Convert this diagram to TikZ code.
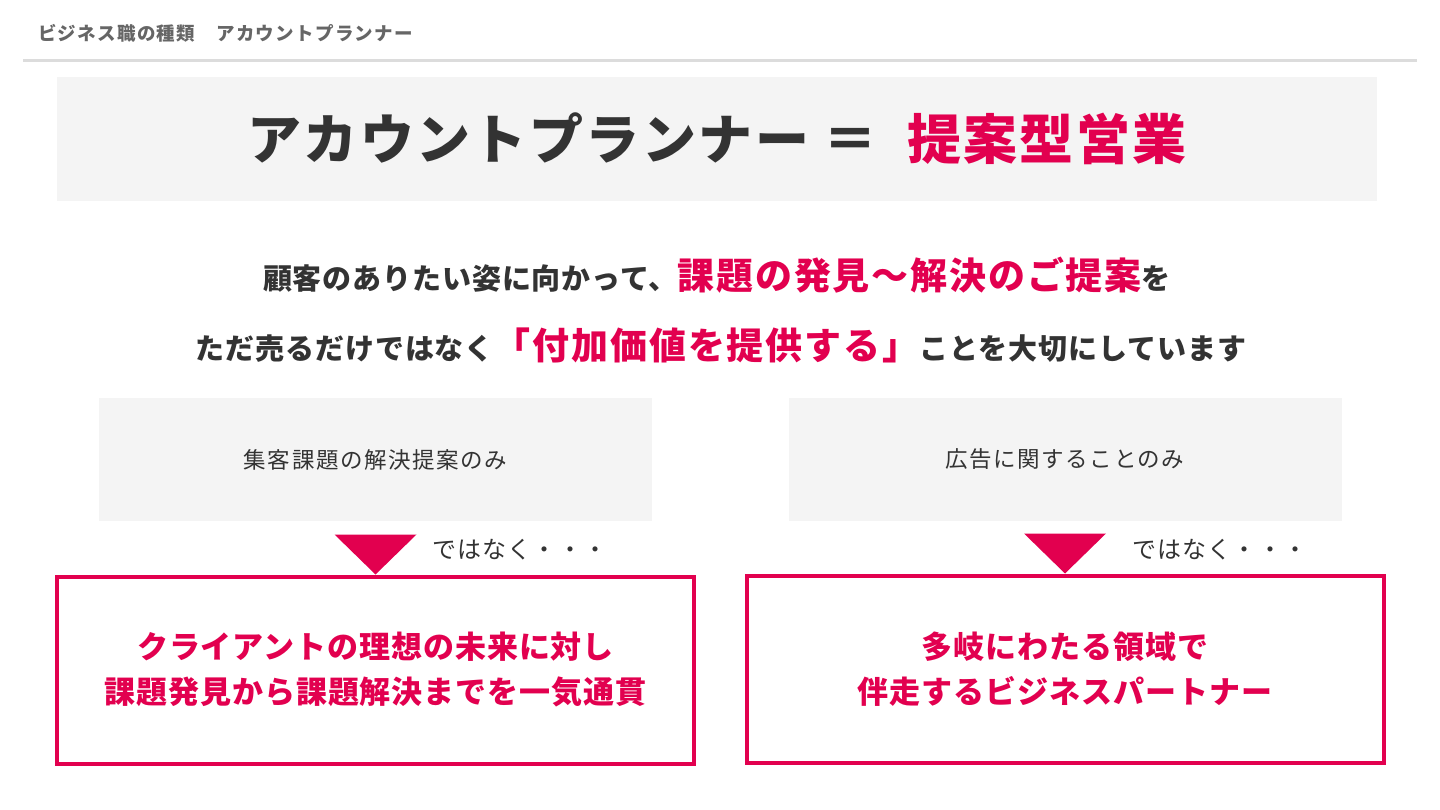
\documentclass[tikz,border=0pt]{standalone}
\usepackage{fontspec}
\setmainfont{Noto Sans CJK JP}
\newfontfamily\heavyfont{Noto Sans CJK JP Black}
\usetikzlibrary{positioning,calc}
\definecolor{accent}{HTML}{E2004F}
\definecolor{ink}{HTML}{333333}
\definecolor{crumbgray}{HTML}{666666}
\definecolor{panelgray}{HTML}{F4F4F4}
\definecolor{rulegray}{HTML}{DCDCDC}
\tikzset{
    panel/.style={
        fill=panelgray,
        draw=none,
        inner sep=0pt,
        minimum width=553pt,
        minimum height=123pt,
        text=ink,
        font=\fontsize{22.5}{26}\selectfont\addfontfeatures{LetterSpace=7},
    },
    goal/.style={
        draw=accent,
        line width=4pt,
        fill=white,
        minimum width=637pt,
        minimum height=187pt,
        align=center,
        text=accent,
        font=\bfseries\fontsize{31}{45}\selectfont\addfontfeatures{LetterSpace=3},
    },
    note/.style={
        inner sep=0pt,
        text=ink,
        font=\fontsize{24}{28}\selectfont\addfontfeatures{LetterSpace=5},
    },
    message/.style={
        inner sep=0pt,
        text=ink,
        font=\bfseries\fontsize{29}{34}\selectfont\addfontfeatures{LetterSpace=3},
    },
}
\newcommand{\keyword}[1]{{\fontsize{37}{40}\selectfont\addfontfeatures{LetterSpace=5}\textcolor{accent}{#1}}}

\begin{document}
\begin{tikzpicture}[x=1pt,y=-1pt]
    \useasboundingbox (0,0) rectangle (1440,810);
    % header
    \node [anchor=west, inner sep=0pt, text=crumbgray, font=\bfseries\fontsize{18.5}{22}\selectfont\addfontfeatures{LetterSpace=7}] (crumb) at (38,33) {ビジネス職の種類　アカウントプランナー};
    \coordinate (rule-l) at (23,61);
    \coordinate (rule-r) at (1417,61);
    \draw [rulegray, line width=3pt] (rule-l) -- (rule-r);
    % title
    \node [fill=panelgray, inner sep=0pt, minimum width=1320pt, minimum height=124pt, text=ink, font=\heavyfont\fontsize{54}{60}\selectfont\addfontfeatures{LetterSpace=4.5}] (title) at (717,139) {アカウントプランナー\hspace{14pt}＝\hspace{30pt}\textcolor{accent}{提案型営業}};
    % message
    \node [message] (msg1) at (717,275) {顧客のありたい姿に向かって、\keyword{課題の発見〜解決のご提案}を};
    \node [message] (msg2) at (721,345) {ただ売るだけではなく\keyword{「付加価値を提供する」}ことを大切にしています};
    % left column
    \node [panel] (onlyL) at (375.5,459.5) {集客課題の解決提案のみ};
    \node [goal] (goalL) at (375.5,670) {クライアントの理想の未来に対し\\課題発見から課題解決までを一気通貫};
    \fill [accent] ($(goalL.north)+(-41,-40)$) -- ($(goalL.north)+(41,-40)$) -- (goalL.north) -- cycle;
    \node [note, anchor=west] (notL) at (432,550) {ではなく・・・};
    % right column
    \node [panel] (onlyR) at (1065,459.5) {広告に関することのみ};
    \node [goal] (goalR) at (1065,669) {多岐にわたる領域で\\伴走するビジネスパートナー};
    \fill [accent] ($(goalR.north)+(-41,-40)$) -- ($(goalR.north)+(41,-40)$) -- (goalR.north) -- cycle;
    \node [note, anchor=west] (notR) at (1132,550) {ではなく・・・};
\end{tikzpicture}
\end{document}
